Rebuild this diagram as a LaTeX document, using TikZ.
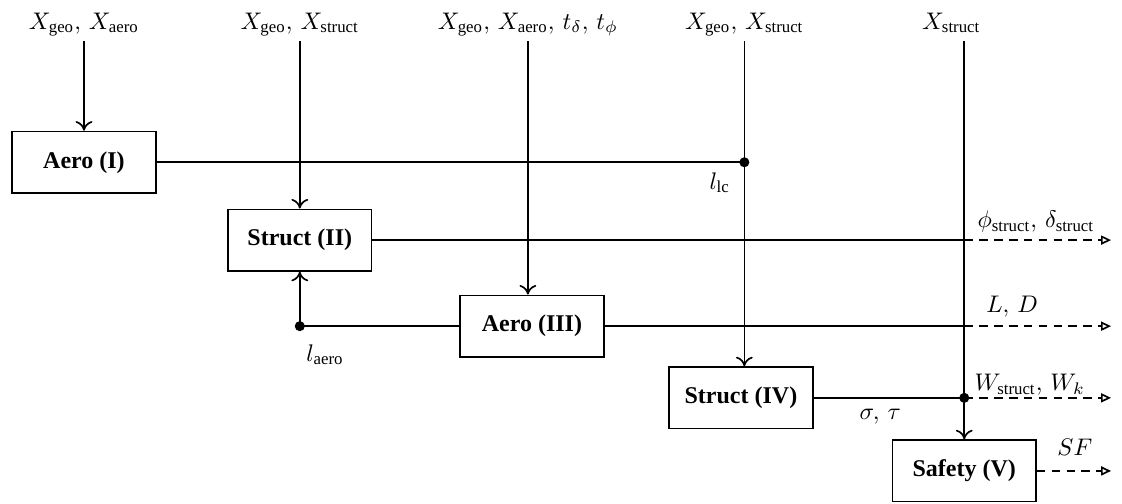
\documentclass[tikz,border=0pt]{standalone}
\usepackage{amsmath}
\usepackage{amssymb}
\usepackage{fontspec}
\setmainfont{Liberation Serif}
\usetikzlibrary{arrows.meta}

\begin{document}
\begin{tikzpicture}[
	block/.style={draw, line width=0.7pt, minimum width=2.1cm, minimum height=0.9cm, font=\bfseries},
	input/.style={text height=1.6ex, text depth=0.6ex, inner sep=2pt},
	link/.style={line width=0.7pt},
	flow/.style={line width=0.7pt, -{To[length=4pt, width=7pt]}},
	result/.style={line width=0.7pt, dash pattern=on 3.6pt off 2.6pt, -{Triangle[open, length=4.2pt, width=3.8pt]}},
	]
	\useasboundingbox (0,0) rectangle (16.43,7.366);
	\node[block] (a1) at (1.23,4.99) {Aero (I)};
	\node[block] (s2) at (4.39,3.85) {Struct (II)};
	\node[block] (a3) at (7.79,2.59) {Aero (III)};
	\node[block] (s4) at (10.85,1.54) {Struct (IV)};
	\node[block] (s5) at (14.12,0.47) {Safety (V)};
	\node[input] (t1) at (1.23,7.02) {$X_{\mathrm{geo}},\, X_{\mathrm{aero}}$};
	\node[input] (t2) at (4.39,7.02) {$X_{\mathrm{geo}},\, X_{\mathrm{struct}}$};
	\node[input] (t3) at (7.73,7.02) {$X_{\mathrm{geo}},\, X_{\mathrm{aero}},\, t_{\delta},\, t_{\phi}$};
	\node[input] (t4) at (10.90,7.02) {$X_{\mathrm{geo}},\, X_{\mathrm{struct}}$};
	\node[input] (t5) at (13.93,7.02) {$X_{\mathrm{struct}}$};
	% junctions and the right hand edge
	\coordinate (lc) at (t4.south |- a1.east);
	\coordinate (la) at (s2.south |- a3.west);
	\coordinate (w)  at (s5.north |- s4.east);
	\coordinate (e2) at (s5.north |- s2.east);
	\coordinate (e3) at (s5.north |- a3.east);
	\coordinate (end) at (16.27,0);
	\draw[flow] (t1) -- (a1);
	\draw[flow] (t2) -- (s2);
	\draw[flow] (t3.south) -- (t3.south |- a3.north);
	\draw[flow] (t4.south) -- (t4.south |- s4.north);
	\draw[flow] (t5.south -| s5.north) -- (s5.north);
	\draw[link] (a1) -- (lc);
	\draw[link] (s2) -- (e2);
	\draw[result] (e2) -- (e2 -| end);
	\draw[link] (a3) -- (e3);
	\draw[result] (e3) -- (e3 -| end);
	\draw[link] (a3) -- (la);
	\draw[flow] (la) -- (s2);
	\draw[link] (s4) -- (w);
	\draw[result] (w) -- (w -| end);
	\draw[result] (s5) -- (s5 -| end);
	\fill (lc) circle (2.1pt);
	\fill (la) circle (2.1pt);
	\fill (w) circle (2.1pt);
	\node (llc) at (10.54,4.69) {$l_{\mathrm{lc}}$};
	\node (laero) at (4.76,2.17) {$l_{\mathrm{aero}}$};
	\node (pd) at (15.17,4.12) {$\phi_{\mathrm{struct}},\, \delta_{\mathrm{struct}}$};
	\node (ld) at (14.82,2.87) {$L,\, D$};
	\node (wk) at (15.08,1.73) {$W_{\mathrm{struct}},\, W_{k}$};
	\node (st) at (12.89,1.26) {$\sigma,\, \tau$};
	\node (sf) at (15.74,0.82) {$SF$};
\end{tikzpicture}
\end{document}
